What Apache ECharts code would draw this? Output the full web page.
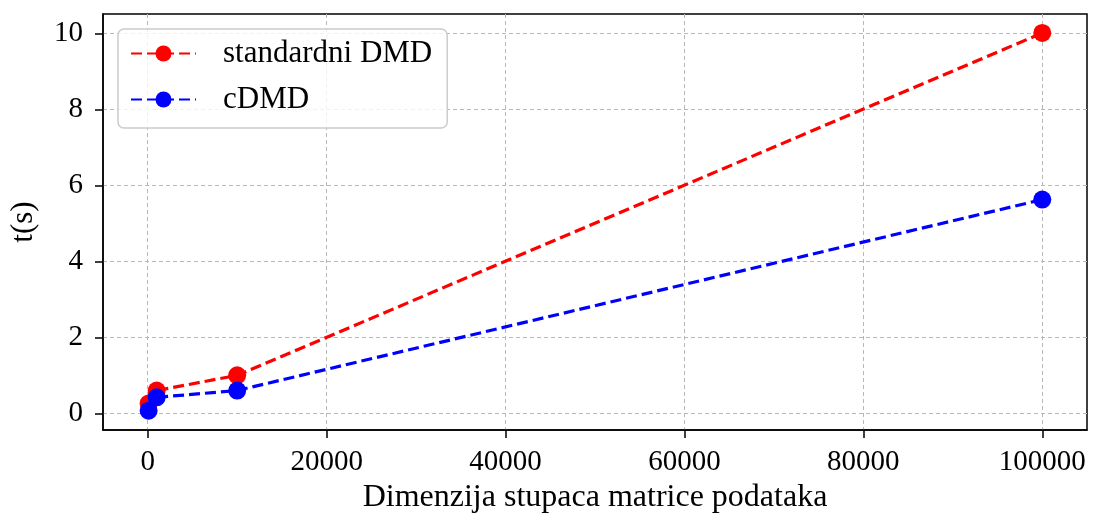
<!DOCTYPE html>
<html><head><meta charset="utf-8">
<script src="https://cdn.jsdelivr.net/npm/echarts@6/dist/echarts.min.js"></script>
<style>html,body{margin:0;padding:0;background:#fff}#c{width:1094px;height:518px}</style>
</head><body><div id="c"></div>
<script>
const dims = [100, 1000, 10000, 100000];
const standardTimes = [0.26, 0.60, 1.00, 10.02];
const cdmdTimes = [0.07, 0.42, 0.60, 5.63];
const xTicks = [0, 20000, 40000, 60000, 80000, 100000];
const yTicks = [0, 2, 4, 6, 8, 10];
const seriesNames = ['standardni DMD', 'cDMD'];

const font = 'Liberation Serif';
const chart = echarts.init(document.getElementById('c'), null, {renderer: 'canvas'});
function mk(name, vals, color) {
  return {
    name, type: 'line', data: dims.map((d, i) => [d, vals[i]]),
    symbol: 'circle', symbolSize: 18, showSymbol: true,
    lineStyle: {color, width: 3.2, type: [11, 5]},
    itemStyle: {color},
    animation: false, z: 3
  };
}
const gridStyle = {show: true, lineStyle: {color: '#b8b8b8', width: 1, type: [4, 3]}};
chart.setOption({
  animation: false,
  grid: {left: 103, right: 7, top: 14, bottom: 88, outerBoundsMode: 'none', containLabel: false, show: true, borderColor: '#000', borderWidth: 1.5, backgroundColor: 'transparent'},
  legend: {
    left: 118, top: 29, orient: 'vertical',
    data: seriesNames,
    itemWidth: 65, itemHeight: 20, itemGap: 15,
    padding: [9, 15, 13, 12],
    backgroundColor: 'rgba(255,255,255,0.8)',
    borderColor: '#cccccc', borderWidth: 1.5, borderRadius: 6,
    textStyle: {fontFamily: font, fontSize: 31, color: '#000', padding: [0, 0, 0, 22]}
  },
  xAxis: {
    type: 'value', min: -5000, max: 105000,
    name: 'Dimenzija stupaca matrice podataka', nameLocation: 'middle', nameGap: 49,
    nameTextStyle: {fontFamily: font, fontSize: 32, color: '#000'},
    axisLine: {show: true, onZero: false, lineStyle: {color: '#000', width: 1.5}},
    axisTick: {show: true, inside: false, length: 8, lineStyle: {color: '#000', width: 1.5}, customValues: xTicks},
    axisLabel: {fontFamily: font, fontSize: 29, color: '#000', margin: 18, customValues: xTicks, formatter: v => String(v)},
    splitLine: gridStyle
  },
  yAxis: {
    type: 'value', min: -0.44, max: 10.52,
    name: 't(s)', nameLocation: 'middle', nameGap: 64, nameRotate: 90,
    nameTextStyle: {fontFamily: font, fontSize: 31, color: '#000'},
    axisLine: {show: true, onZero: false, lineStyle: {color: '#000', width: 1.5}},
    axisTick: {show: true, inside: false, length: 8, lineStyle: {color: '#000', width: 1.5}, customValues: yTicks},
    axisLabel: {fontFamily: font, fontSize: 29, color: '#000', margin: 10, align: 'right', padding: [0, 10, 0, 0], customValues: yTicks, formatter: v => String(v)},
    splitLine: gridStyle
  },
  series: [mk(seriesNames[0], standardTimes, '#ff0000'), mk(seriesNames[1], cdmdTimes, '#0000ff')]
});
</script></body></html>
